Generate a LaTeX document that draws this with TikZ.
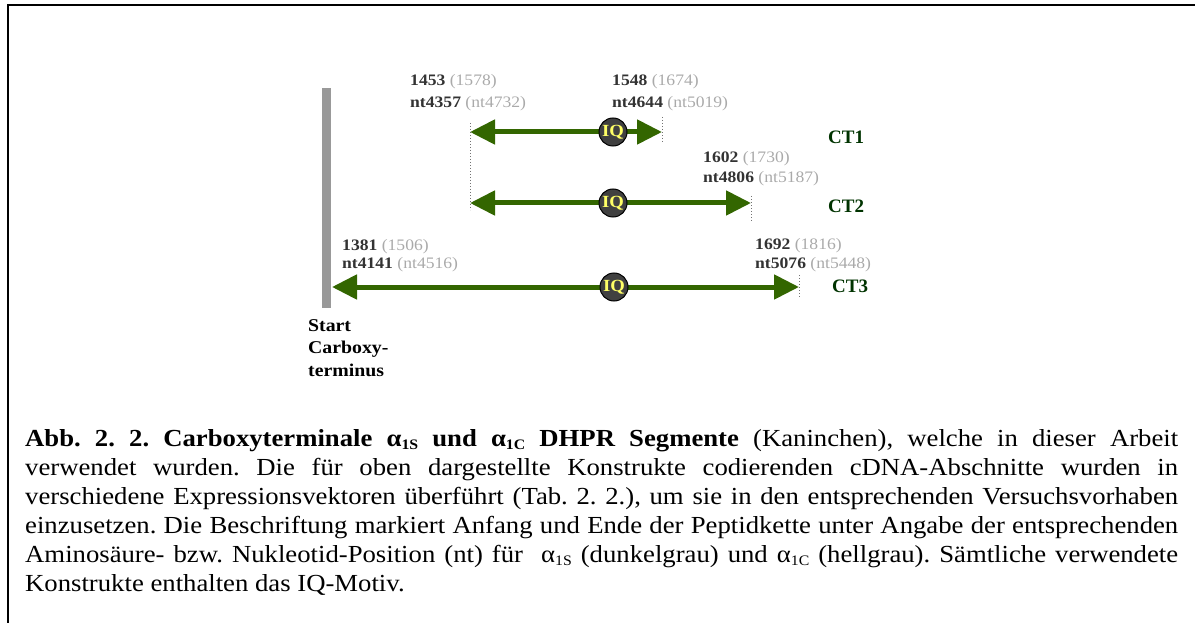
\documentclass[tikz,border=0pt]{standalone}
\usepackage{fontspec}
\setmainfont{Liberation Serif}
\newfontfamily\capfont[FakeStretch=1.09]{Liberation Serif}
\newfontfamily\labfont[FakeStretch=1.1]{Liberation Serif}
\usetikzlibrary{arrows.meta}
\definecolor{ctgreen}{HTML}{336600}
\definecolor{ctdark}{HTML}{003300}
\definecolor{numdark}{HTML}{333333}
\definecolor{numlight}{HTML}{AAAAAA}
\definecolor{iqfill}{HTML}{404040}
\definecolor{iqtext}{HTML}{FFFF66}
\definecolor{barcol}{HTML}{999999}
\newcommand{\asub}[1]{α\raisebox{-0.3ex}{\fontsize{14.5}{14.5}\selectfont #1}}
\newcommand{\posl}[2]{{\color{numdark}\bfseries #1} {\color{numlight}#2}}
\tikzset{
  ctline/.style={line width=5pt, color=ctgreen,
    {Triangle[length=25pt,width=24pt]}-{Triangle[length=25pt,width=24pt]}},
  guide/.style={draw=black!55, line width=1pt, dash pattern=on 1pt off 2pt},
  iq/.style={circle, draw=black, line width=1pt, fill=iqfill, minimum size=28pt,
    inner sep=0pt, text=iqtext, font=\labfont\bfseries\fontsize{17}{17}\selectfont},
  num/.style={anchor=base west, inner sep=0pt, font=\labfont\fontsize{16}{16}\selectfont},
  startlab/.style={anchor=base west, inner sep=0pt, font=\labfont\bfseries\fontsize{18}{18}\selectfont},
  ctlab/.style={anchor=base west, inner sep=0pt, text=ctdark,
    font=\bfseries\fontsize{19}{19}\selectfont},
  capline/.style={anchor=base west, inner sep=0pt, font=\capfont\fontsize{24.5}{29}\selectfont\frenchspacing}
}
\begin{document}
\begin{tikzpicture}[x=1pt,y=-1pt]
\useasboundingbox (0,0) rectangle (1195,623);
% frame
\draw[line width=2.2pt] (8,623) -- (8,5) -- (1195,5);
% start bar
\fill[barcol] (322,88) rectangle (331,308);
\node[startlab] (s1) at (308,331) {Start};
\node[startlab] (s2) at (308,353) {Carboxy-};
\node[startlab] (s3) at (308,376) {terminus};
% coordinates of tips
\coordinate (l1) at (470,132);
\coordinate (r1) at (662,132);
\coordinate (l2) at (470,203);
\coordinate (r2) at (751,203);
\coordinate (l3) at (332,287);
\coordinate (r3) at (799,287);
% guide lines
\coordinate (g1a) at (470,123); \coordinate (g1b) at (470,210);
\coordinate (g2a) at (662,117); \coordinate (g2b) at (662,142);
\coordinate (g3a) at (751,196); \coordinate (g3b) at (751,222);
\coordinate (g4a) at (799,275); \coordinate (g4b) at (799,298);
\draw[guide] (g1a) -- (g1b);
\draw[guide] (g2a) -- (g2b);
\draw[guide] (g3a) -- (g3b);
\draw[guide] (g4a) -- (g4b);
% arrows
\draw[ctline] (l1) -- (r1);
\draw[ctline] (l2) -- (r2);
\draw[ctline] (l3) -- (r3);
\node[iq] (iq1) at (613,132) {IQ};
\node[iq] (iq2) at (613,203) {IQ};
\node[iq] (iq3) at (614,287) {IQ};
% CT labels
\node[ctlab] (ct1) at (828,144) {CT1};
\node[ctlab] (ct2) at (828,212) {CT2};
\node[ctlab] (ct3) at (832,292) {CT3};
% position labels
\node[num] (a1) at (410,86) {\posl{1453}{(1578)}};
\node[num] (a2) at (410,108) {\posl{nt4357}{(nt4732)}};
\node[num] (b1) at (612,86) {\posl{1548}{(1674)}};
\node[num] (b2) at (612,108) {\posl{nt4644}{(nt5019)}};
\node[num] (c1) at (703,163) {\posl{1602}{(1730)}};
\node[num] (c2) at (703,183) {\posl{nt4806}{(nt5187)}};
\node[num] (d1) at (342,251) {\posl{1381}{(1506)}};
\node[num] (d2) at (342,269) {\posl{nt4141}{(nt4516)}};
\node[num] (e1) at (755,249) {\posl{1692}{(1816)}};
\node[num] (e2) at (755,269) {\posl{nt5076}{(nt5448)}};
% caption
\node[capline] (cap1) at (25,446) {\makebox[1153pt][s]{\bfseries Abb. 2. 2. Carboxyterminale \asub{1S} und \asub{1C} DHPR Segmente \mdseries (Kaninchen), welche in dieser Arbeit}};
\node[capline] (cap2) at (25,475) {\makebox[1153pt][s]{verwendet wurden. Die für oben dargestellte Konstrukte codierenden cDNA-Abschnitte wurden in}};
\node[capline] (cap3) at (25,504) {\makebox[1153pt][s]{verschiedene Expressionsvektoren überführt (Tab. 2. 2.), um sie in den entsprechenden Versuchsvorhaben}};
\node[capline] (cap4) at (25,533) {\makebox[1153pt][s]{einzusetzen. Die Beschriftung markiert Anfang und Ende der Peptidkette unter Angabe der entsprechenden}};
\node[capline] (cap5) at (25,562) {\makebox[1153pt][s]{Aminosäure- bzw. Nukleotid-Position (nt) für~ \asub{1S} (dunkelgrau) und \asub{1C} (hellgrau). Sämtliche verwendete}};
\node[capline] (cap6) at (25,591) {Konstrukte enthalten das IQ-Motiv.};
\end{tikzpicture}
\end{document}
